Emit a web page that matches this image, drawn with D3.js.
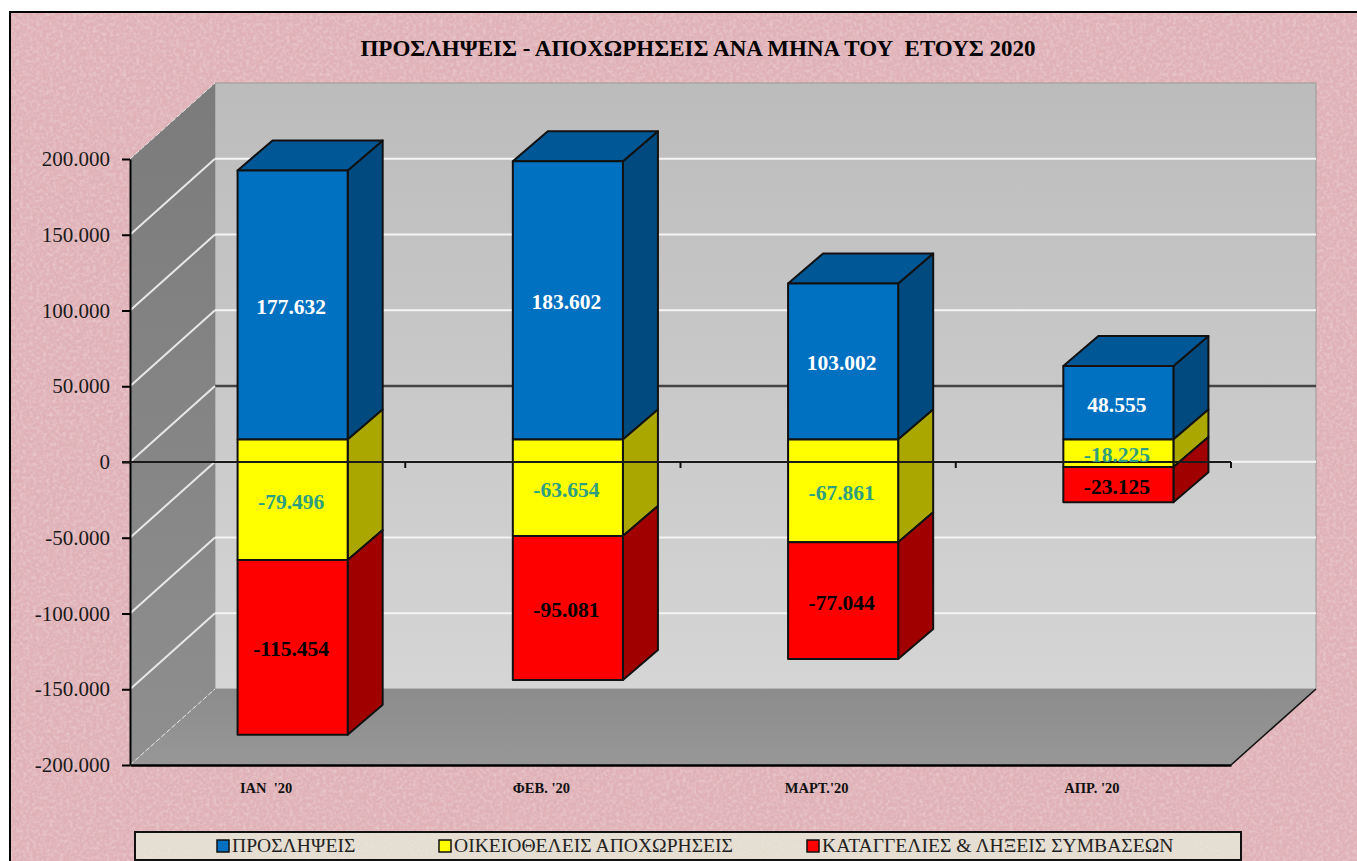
<!DOCTYPE html>
<html>
<head>
  <meta charset="utf-8">
  <title>Προσλήψεις - Αποχωρήσεις</title>
  <script src="https://d3js.org/d3.v7.min.js"></script>
  <style>
    html, body { margin: 0; padding: 0; background: #fff; overflow: hidden; }
    svg { display: block; font-family: "Liberation Serif", serif; }
    text { white-space: pre; }
  </style>
</head>
<body>
  <svg id="chart" width="1357" height="861"></svg>

  <script>
    var titleText = "ΠΡΟΣΛΗΨΕΙΣ - ΑΠΟΧΩΡΗΣΕΙΣ ΑΝΑ ΜΗΝΑ ΤΟΥ  ΕΤΟΥΣ 2020";
    var months = ["ΙΑΝ  '20", "ΦΕΒ. '20", "ΜΑΡΤ.'20", "ΑΠΡ. '20"];
    var seriesNames = ["ΠΡΟΣΛΗΨΕΙΣ", "ΟΙΚΕΙΟΘΕΛΕΙΣ ΑΠΟΧΩΡΗΣΕΙΣ", "ΚΑΤΑΓΓΕΛΙΕΣ & ΛΗΞΕΙΣ ΣΥΜΒΑΣΕΩΝ"];
    var hires = [177632, 183602, 103002, 48555];
    var voluntary = [-79496, -63654, -67861, -18225];
    var dismissals = [-115454, -95081, -77044, -23125];
    var yTicks = [200000, 150000, 100000, 50000, 0, -50000, -100000, -150000, -200000];

    var frontColors = ["#0070c0", "#ffff00", "#ff0000"];
    var sideColors = ["#004a80", "#aaa800", "#a00000"];
    var topColor = "#005796";
    var labelColors = ["#ffffff", "#2e9e82", "#000000"];

    // 3d box of the chart: front plane + how far the back wall is pushed
    var plotLeft = 130, plotRight = 1231, plotTop = 159, plotBottom = 765;
    var wallX = 85, wallY = -76;
    // bars stand a bit inside the box
    var barX = 25, barY = -22.5, depthX = 35, depthY = -30;

    var svg = d3.select("#chart");
    var defs = svg.append("defs");

    function gradient(id, from, to) {
      var g = defs.append("linearGradient").attr("id", id)
        .attr("x1", 0).attr("y1", 0).attr("x2", 0).attr("y2", 1);
      g.append("stop").attr("offset", "0%").attr("stop-color", from);
      g.append("stop").attr("offset", "100%").attr("stop-color", to);
    }
    gradient("backWall", "#bcbcbc", "#d5d5d5");
    gradient("sideWall", "#7b7b7b", "#8f8f8f");
    gradient("floor", "#8c8c8c", "#979797");

    // paper-like grain for the background and the legend
    function grain(id, freq, amount) {
      var f = defs.append("filter").attr("id", id)
        .attr("x", 0).attr("y", 0).attr("width", "100%").attr("height", "100%");
      f.append("feTurbulence").attr("type", "fractalNoise")
        .attr("baseFrequency", freq).attr("numOctaves", 3).attr("seed", 4).attr("result", "n");
      f.append("feColorMatrix").attr("in", "n").attr("type", "matrix")
        .attr("values", "0 0 0 0 1  0 0 0 0 1  0 0 0 0 1  " + amount + " 0 0 0 " + (-amount * 0.42))
        .attr("result", "w");
      f.append("feMerge").selectAll("feMergeNode").data(["SourceGraphic", "w"]).enter()
        .append("feMergeNode").attr("in", d => d);
    }
    grain("paper", 0.3, 0.5);
    grain("paperLight", 0.6, 0.4);

    var x = d3.scaleBand().domain(months).range([plotLeft, plotRight]).paddingInner(0.6).paddingOuter(0.3);
    var y = d3.scaleLinear().domain([-200000, 200000]).range([plotBottom, plotTop]);

    var locale = d3.formatLocale({ decimal: ",", thousands: ".", grouping: [3], currency: ["", ""], minus: "-" });
    var fmt = locale.format(",");

    var rows = months.map((m, i) => ({ month: m, s0: hires[i], s1: voluntary[i], s2: dismissals[i] }));
    var stacked = d3.stack().keys(["s0", "s1", "s2"]).offset(d3.stackOffsetDiverging)(rows);

    // background
    svg.append("rect").attr("x", 10).attr("y", 12).attr("width", 1360).attr("height", 860)
      .attr("fill", "#e0b2b8").attr("filter", "url(#paper)");
    svg.append("rect").attr("x", 10).attr("y", 12).attr("width", 1360).attr("height", 860)
      .attr("fill", "none").attr("stroke", "#000").attr("stroke-width", 2);

    svg.append("text").attr("x", 698).attr("y", 56).attr("text-anchor", "middle")
      .attr("font-size", 23).attr("font-weight", "bold").text(titleText);

    function poly(pts) { return pts.map(p => p.join(",")).join(" "); }

    var walls = svg.append("g");
    walls.append("polygon")
      .attr("points", poly([[plotLeft + wallX, plotTop + wallY], [plotRight + wallX, plotTop + wallY], [plotRight + wallX, plotBottom + wallY], [plotLeft + wallX, plotBottom + wallY]]))
      .attr("fill", "url(#backWall)").attr("stroke", "#999").attr("stroke-width", 1);
    walls.append("polygon")
      .attr("points", poly([[plotLeft, plotTop], [plotLeft + wallX, plotTop + wallY], [plotLeft + wallX, plotBottom + wallY], [plotLeft, plotBottom]]))
      .attr("fill", "url(#sideWall)");
    walls.append("polygon")
      .attr("points", poly([[plotLeft, plotBottom], [plotRight, plotBottom], [plotRight + wallX, plotBottom + wallY], [plotLeft + wallX, plotBottom + wallY]]))
      .attr("fill", "url(#floor)");

    // gridlines on both walls, the zero line of the back wall is dark
    var gridTicks = yTicks.filter(d => d !== -200000 && d !== 200000);
    walls.selectAll(".back").data(gridTicks).enter().append("line")
      .attr("class", "back")
      .attr("x1", plotLeft + wallX).attr("x2", plotRight + wallX)
      .attr("y1", d => y(d) + wallY).attr("y2", d => y(d) + wallY)
      .attr("stroke", d => d === 0 ? "#444" : "#f4f4f4")
      .attr("stroke-width", d => d === 0 ? 2.5 : 2);
    walls.selectAll(".diag").data(yTicks).enter().append("line")
      .attr("class", "diag")
      .attr("x1", plotLeft).attr("x2", plotLeft + wallX)
      .attr("y1", d => y(d)).attr("y2", d => y(d) + wallY)
      .attr("stroke", "#e8e8e8")
      .attr("stroke-width", d => gridTicks.includes(d) ? 2 : 1)
      .attr("stroke-dasharray", d => gridTicks.includes(d) ? null : "5 2");
    walls.append("line")
      .attr("x1", plotRight).attr("y1", plotBottom).attr("x2", plotRight + wallX).attr("y2", plotBottom + wallY)
      .attr("stroke", "#111").attr("stroke-width", 1.5);

    // bars, each segment: side, (top for the blue one), front
    var bars = svg.append("g").attr("stroke", "#111").attr("stroke-width", 2).attr("stroke-linejoin", "round");
    stacked.forEach(function(layer, s) {
      layer.forEach(function(d) {
        var m = d.data.month;
        var x0 = x(m) + barX, x1 = x0 + x.bandwidth();
        var yTop = y(Math.max(d[0], d[1])) + barY;
        var yBot = y(Math.min(d[0], d[1])) + barY;
        bars.append("polygon")
          .attr("points", poly([[x1, yTop], [x1 + depthX, yTop + depthY], [x1 + depthX, yBot + depthY], [x1, yBot]]))
          .attr("fill", sideColors[s]);
        if (s === 0) {
          bars.append("polygon")
            .attr("points", poly([[x0, yTop], [x0 + depthX, yTop + depthY], [x1 + depthX, yTop + depthY], [x1, yTop]]))
            .attr("fill", topColor);
        }
        bars.append("rect")
          .attr("x", x0).attr("y", yTop).attr("width", x.bandwidth()).attr("height", yBot - yTop)
          .attr("fill", frontColors[s]);
      });
    });

    // axes
    var yAxis = svg.append("g").attr("transform", "translate(" + plotLeft + ",0)")
      .call(d3.axisLeft(y).tickValues(yTicks).tickFormat(fmt).tickSize(8).tickSizeOuter(0).tickPadding(12));
    yAxis.select(".domain").attr("stroke-width", 2);
    yAxis.selectAll(".tick line").attr("stroke-width", 2);
    yAxis.selectAll("text").attr("font-family", "Liberation Serif").attr("font-size", 21).attr("fill", "#1a1a1a");

    var xAxis = svg.append("g").attr("transform", "translate(-1.5," + plotBottom + ")")
      .call(d3.axisBottom(x).tickSize(0).tickPadding(17.5));
    xAxis.select(".domain").attr("stroke-width", 2.5).attr("transform", "translate(1.5,0)");
    xAxis.selectAll("text").attr("font-family", "Liberation Serif").attr("font-size", 14.5).attr("font-weight", "bold").attr("fill", "#111");

    // zero line runs over the bars
    var zero = svg.append("g");
    zero.append("line").attr("x1", plotLeft - 8).attr("x2", plotRight)
      .attr("y1", y(0)).attr("y2", y(0)).attr("stroke", "#1a1a1a").attr("stroke-width", 2);
    zero.selectAll(".mark").data(months).enter().append("line")
      .attr("class", "mark")
      .attr("x1", (d, i) => plotLeft + x.step() * (i + 1)).attr("x2", (d, i) => plotLeft + x.step() * (i + 1))
      .attr("y1", y(0)).attr("y2", y(0) + 6)
      .attr("stroke", "#111").attr("stroke-width", 2);

    // value labels
    var labels = svg.append("g").attr("text-anchor", "middle").attr("font-size", 21.5).attr("font-weight", "bold");
    stacked.forEach(function(layer, s) {
      layer.forEach(function(d, i) {
        var value = [hires, voluntary, dismissals][s][i];
        labels.append("text")
          .attr("x", x(d.data.month) + barX + x.bandwidth() / 2 - 1.5)
          .attr("y", (y(d[0]) + y(d[1])) / 2 + barY + 9)
          .attr("fill", labelColors[s])
          .text(fmt(value));
      });
    });

    // legend
    var legend = svg.append("g");
    legend.append("rect").attr("x", 135).attr("y", 832).attr("width", 1106).attr("height", 28)
      .attr("fill", "#e4ddd0").attr("filter", "url(#paperLight)");
    legend.append("rect").attr("x", 135).attr("y", 832).attr("width", 1106).attr("height", 28)
      .attr("fill", "none").attr("stroke", "#111").attr("stroke-width", 2);
    var legendX = [217, 439, 807];
    seriesNames.forEach(function(name, i) {
      legend.append("rect").attr("x", legendX[i]).attr("y", 840).attr("width", 12).attr("height", 12)
        .attr("fill", frontColors[i]).attr("stroke", "#111").attr("stroke-width", 1.5);
      legend.append("text").attr("x", legendX[i] + 15).attr("y", 852)
        .attr("font-size", 19.6).attr("fill", "#222").text(name);
    });
  </script>
</body>
</html>
